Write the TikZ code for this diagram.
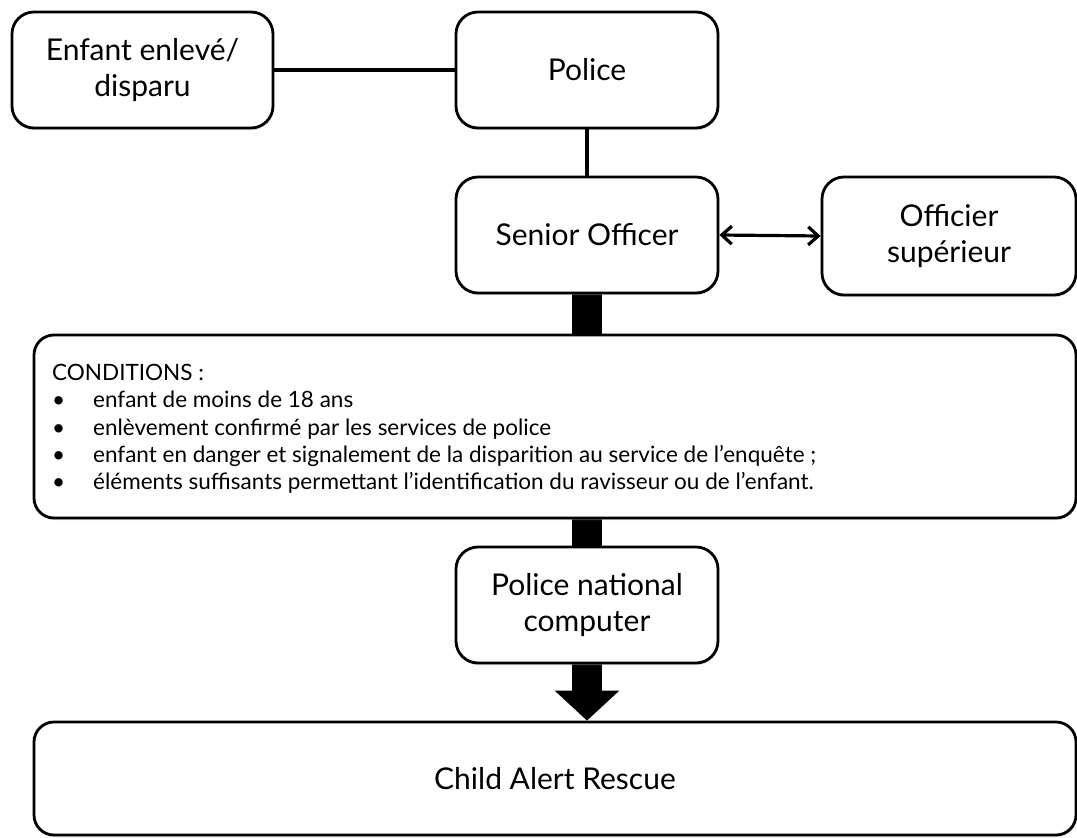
\documentclass[tikz,border=0pt]{standalone}
\usepackage{fontspec}
\setmainfont{Lato}
\usepackage{tikz}
\usetikzlibrary{arrows.meta}
\usetikzlibrary{shadows}
\usetikzlibrary{backgrounds}
\tikzset{
   flowbox/.style={draw, line width=2.8pt, rounded corners=22pt, fill=white,
           drop shadow={shadow xshift=0.6pt, shadow yshift=-2.2pt, fill=black!25},
           align=center, font=\fontsize{30}{36}\selectfont, inner sep=0pt,
   },
   link/.style={line width=3.2pt},
   bigbar/.style={line width=30pt, black},
}

\begin{document}
\begin{tikzpicture}[x=1pt, y=-1pt]
    \useasboundingbox (0,0) rectangle (1077,838);

    \node[flowbox, minimum width=261pt, minimum height=116pt] (enfant) at (142.5, 70) {Enfant enlevé/\\disparu};
    \node[flowbox, minimum width=262pt, minimum height=116pt] (police) at (587, 70) {Police};
    \node[flowbox, minimum width=262pt, minimum height=116pt] (senior) at (587, 235) {Senior Officer};
    \node[flowbox, minimum width=254pt, minimum height=118pt] (officier) at (949, 236) {Officier\\supérieur};
    \node[flowbox, minimum width=1042pt, minimum height=183pt, rounded corners=20pt] (conditions) at (555, 426.5) {};
    \node[flowbox, minimum width=262pt, minimum height=116pt] (pnc) at (587, 605) {Police national\\computer};
    \node[flowbox, minimum width=1042pt, minimum height=113pt, rounded corners=20pt] (rescue) at (555, 778.5) {Child Alert Rescue};

    \node[anchor=north west, align=left, inner sep=0pt, font=\fontsize{22.5}{27.3}\selectfont] (liste) at (52, 364) {%
      CONDITIONS :\\
      \makebox[41pt][l]{•}enfant de moins de 18 ans\\
      \makebox[41pt][l]{•}enlèvement confirmé par les services de police\\
      \makebox[41pt][l]{•}enfant en danger et signalement de la disparition au service de l’enquête ;\\
      \makebox[41pt][l]{•}éléments suffisants permettant l’identification du ravisseur ou de l’enfant.};

    \draw[link] (enfant.east) -- (police.west);
    \draw[link] (police.south) -- (senior.north);
    \draw[link, {Straight Barb[length=10pt,width=18pt]}-{Straight Barb[length=10pt,width=18pt]}] (senior.east) -- (officier.west);

    \begin{scope}[on background layer]
      \draw[bigbar] (senior.south) -- (senior.south |- conditions.north);
      \draw[bigbar] (pnc.north |- conditions.south) -- (pnc.north);
      \draw[bigbar, -{Triangle[length=30pt, width=63pt]}] (pnc.south) -- (pnc.south |- rescue.north);
    \end{scope}

  \end{tikzpicture}
\end{document}
